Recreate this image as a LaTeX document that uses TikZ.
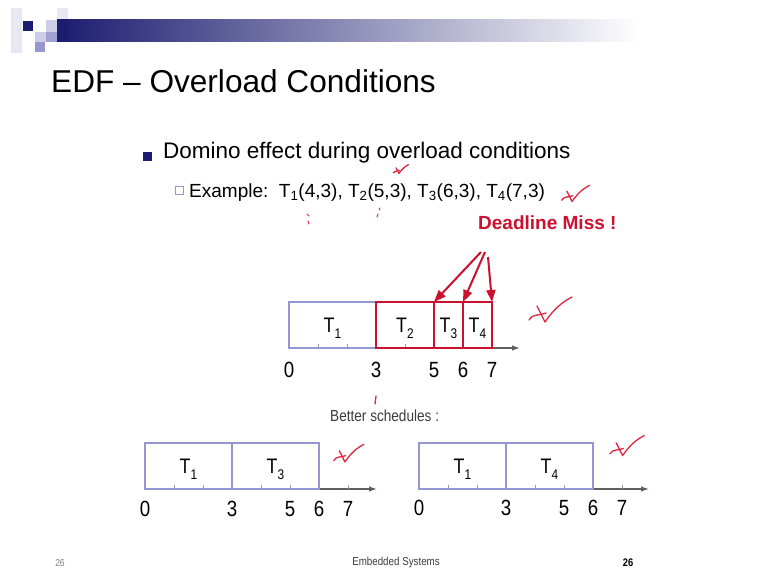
\documentclass[tikz,border=0pt]{standalone}
\usepackage{fontspec}
\setmainfont{Liberation Sans}
\newfontfamily\narrowsf[FakeStretch=0.85]{Liberation Sans}
\usetikzlibrary{arrows.meta}
\definecolor{navy}{RGB}{28,28,112}
\definecolor{barmid}{RGB}{80,80,160}
\definecolor{lav}{RGB}{150,150,208}
\definecolor{lavlight}{RGB}{205,205,232}
\definecolor{lavpale}{RGB}{232,232,244}
\definecolor{lavmid}{RGB}{160,160,210}
\definecolor{slred}{RGB}{204,16,48}
\definecolor{handred}{RGB}{222,40,64}
\definecolor{axisgray}{RGB}{95,95,95}
\definecolor{txtgray}{RGB}{60,60,60}
\newcommand\fsz[1]{\fontsize{#1}{#1}\selectfont}
\newcommand\tsub[2]{#1\raisebox{-0.3em}{\fontsize{14}{14}\selectfont #2}}
\tikzset{
  handcheck/.pic={
    \draw[hand] (1,25) .. controls (5,18) and (12,21) .. (18,18);
    \draw[hand] (9,11) -- (17,27) .. controls (25,15) and (34,7) .. (44,2);
  }
}
\begin{document}
\begin{tikzpicture}[x=1pt,y=-1pt,
  lbox/.style={draw=lav, line width=1.6pt, minimum height=46pt, anchor=south west, outer sep=0pt, inner sep=0pt, text height=15pt, text depth=0pt, font=\narrowsf\fsz{21}},
  rbox/.style={draw=slred, line width=2.2pt, minimum height=46pt, anchor=south west, outer sep=0pt, inner sep=0pt, text height=15pt, text depth=0pt, font=\narrowsf\fsz{21}},
  num/.style={font=\narrowsf\fsz{22}, inner sep=0pt},
  axisline/.style={draw=axisgray, line width=1.3pt, -{Latex[length=8pt,width=5.5pt]}},
  tmark/.style={draw=gray!80, line width=0.9pt},
  hand/.style={draw=handred, line width=1.3pt, line cap=round, line join=round},
  dmarrow/.style={draw=slred, line width=2pt, -{Triangle[length=12pt,width=9pt]}}]
\useasboundingbox[fill=white] (0,0) rectangle (767,580);

% header decoration
\fill[lavpale] (11,8) rectangle (22,53);
\fill[navy] (23,21) rectangle (33,31);
\fill[lavpale] (57,8) rectangle (68,20);
\fill[lavlight] (46,20) rectangle (57,32);
\fill[lavmid] (57,20) rectangle (68,32);
\fill[lavlight] (35,32) rectangle (46,42);
\fill[lavmid] (46,32) rectangle (57,42);
\fill[lav] (35,42) rectangle (45,52);
\shade[left color=navy, middle color=barmid, right color=white] (57,20) rectangle (640,42);
\fill[navy] (57,20) rectangle (68,42);

% title and bullets
\node[anchor=base west, inner sep=0pt, font=\fsz{31.6}] (title) at (51,93) {EDF – Overload Conditions};
\fill[navy] (143,152) rectangle (152,161);
\node[anchor=base west, inner sep=0pt, font=\fsz{22.5}] (b1) at (163,159) {Domino effect during overload conditions};
\draw[lav, line width=0.9pt] (175,186) rectangle (183,194);
\node[anchor=base west, inner sep=0pt, font=\fsz{19}] (ex) at (189,197) {Example:\ \ T\textsubscript{1}(4,3), T\textsubscript{2}(5,3), T\textsubscript{3}(6,3), T\textsubscript{4}(7,3)};
\node[anchor=base west, inner sep=0pt, font=\fsz{19}\bfseries, text=slred] (dm) at (478,229) {Deadline Miss !};

% top schedule
\coordinate (o1) at (289,348);
\coordinate (e1) at (520,348);
\draw[axisline] (o1) -- (e1);
\foreach \x in {318,347,405} \draw[tmark] (\x,344) -- (\x,348);
\node[lbox, minimum width=87pt] (a1) at (289,348) {\tsub{T}{1}};
\node[rbox, minimum width=58pt] (a2) at (376,348) {\tsub{T}{2}};
\node[rbox, minimum width=29pt] (a3) at (434,348) {\tsub{T}{3}};
\node[rbox, minimum width=29pt] (a4) at (463,348) {\tsub{T}{4}};
\node[num] (n10) at (289,370) {0};
\node[num] (n13) at (376,370) {3};
\node[num] (n15) at (434,370) {5};
\node[num] (n16) at (463,370) {6};
\node[num] (n17) at (492,370) {7};

% deadline miss arrows
\coordinate (s1) at (481,252);
\coordinate (s2) at (485,252);
\coordinate (s3) at (488,257);
\draw[dmarrow] (s1) -- (a3.north west);
\draw[dmarrow] (s2) -- (a4.north west);
\draw[dmarrow] (s3) -- (a4.north east);

% better schedules
\node[anchor=base west, inner sep=0pt, font=\narrowsf\fsz{16}, text=txtgray] (bs) at (330,421) {Better schedules :};

% bottom-left schedule
\coordinate (o2) at (145,489);
\coordinate (e2) at (377,489);
\draw[axisline] (o2) -- (e2);
\foreach \x in {174,203,261,290,348} \draw[tmark] (\x,485) -- (\x,489);
\node[lbox, minimum width=87pt] (l1) at (145,489) {\tsub{T}{1}};
\node[lbox, minimum width=87pt] (l2) at (232,489) {\tsub{T}{3}};
\node[num] (n20) at (145,509) {0};
\node[num] (n23) at (232,509) {3};
\node[num] (n25) at (290,509) {5};
\node[num] (n26) at (319,509) {6};
\node[num] (n27) at (348,509) {7};

% bottom-right schedule
\coordinate (o3) at (419,489);
\coordinate (e3) at (649,489);
\draw[axisline] (o3) -- (e3);
\foreach \x in {448,477,535,564,622} \draw[tmark] (\x,485) -- (\x,489);
\node[lbox, minimum width=87pt] (r1) at (419,489) {\tsub{T}{1}};
\node[lbox, minimum width=87pt] (r2) at (506,489) {\tsub{T}{4}};
\node[num] (n30) at (419,508) {0};
\node[num] (n33) at (506,508) {3};
\node[num] (n35) at (564,508) {5};
\node[num] (n36) at (593,508) {6};
\node[num] (n37) at (622,508) {7};

% handwritten marks
\pic[scale=0.65] at (561,184) {handcheck};
\pic at (528,295) {handcheck};
\pic[scale=0.7] at (333,443) {handcheck};
\pic[scale=0.8] at (609,434) {handcheck};
\pic[scale=0.35] at (393,164) {handcheck};
\draw[hand, line width=1pt] (307,214) -- (309,216) (308,221) -- (309,224);
\draw[hand, line width=1pt] (379,208) -- (380,210) (378,214) -- (377,217);
\draw[hand] (376,396) -- (375,404);

% footer
\node[inner sep=0pt, font=\narrowsf\fsz{10}, text=gray] (f1) at (60,563) {26};
\node[inner sep=0pt, font=\narrowsf\fsz{11.5}, text=txtgray] (f2) at (396,563) {Embedded Systems};
\node[inner sep=0pt, font=\narrowsf\fsz{11}\bfseries] (f3) at (628,563) {26};
\end{tikzpicture}
\end{document}
